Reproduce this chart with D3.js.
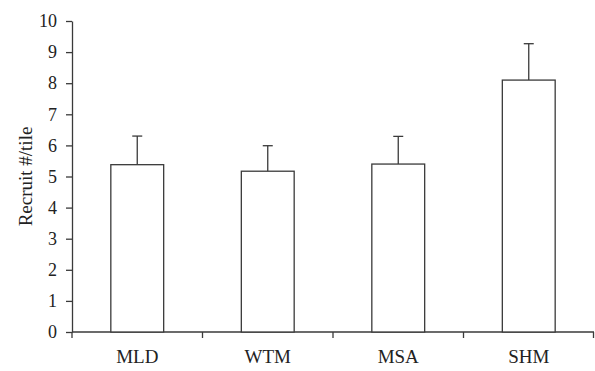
<!DOCTYPE html>
<html>
<head>
<meta charset="utf-8">
<script src="https://cdn.jsdelivr.net/npm/d3@7"></script>
<style>
  body { margin: 0; background: #fff; }
  text { font-family: "Liberation Serif", "DejaVu Serif", serif; fill: #222; }
</style>
</head>
<body>
<div id="chart-container"></div>
<script>
// Data
const categories = ["MLD", "WTM", "MSA", "SHM"];
const means = [5.38, 5.17, 5.40, 8.10];
const errors = [0.92, 0.82, 0.89, 1.17];
const yTicks = [0, 1, 2, 3, 4, 5, 6, 7, 8, 9, 10];

const W = 595, H = 371;
const margin = { top: 21, right: 1, bottom: 39, left: 72 };
const width = W - margin.left - margin.right;
const height = H - margin.top - margin.bottom;
const ink = "#3a3a3a";

const svg = d3.select("#chart-container")
  .append("svg")
  .attr("width", W)
  .attr("height", H)
  .append("g")
  .attr("transform", `translate(${margin.left}, ${margin.top})`);

const x = d3.scaleBand()
  .domain(categories)
  .range([0, width])
  .paddingInner(0.595)
  .paddingOuter(0.2975);

const y = d3.scaleLinear()
  .domain([0, 10])
  .range([height, 0]);

// y axis
const yAxis = svg.append("g")
  .call(d3.axisLeft(y).tickValues(yTicks).tickSize(6).tickPadding(9).tickSizeOuter(0));
yAxis.select(".domain").attr("stroke", ink).attr("stroke-width", 1.3);
yAxis.selectAll(".tick line").attr("stroke", ink).attr("stroke-width", 1.3);
yAxis.selectAll(".tick text").style("font-size", "18px").attr("fill", "#222");

// x axis with tick marks at band boundaries
const xAxisG = svg.append("g")
  .attr("transform", `translate(0, ${height})`);
xAxisG.append("line")
  .attr("x1", 0).attr("x2", width)
  .attr("stroke", ink).attr("stroke-width", 1.3);
const step = x.step();
const bounds = d3.range(categories.length + 1).map(i => i * step - (i === categories.length ? 0.5 : 0));
xAxisG.selectAll(".bound")
  .data(bounds)
  .join("line")
  .attr("x1", d => d).attr("x2", d => d)
  .attr("y1", 0).attr("y2", 6)
  .attr("stroke", ink).attr("stroke-width", 1.3);
xAxisG.selectAll(".lab")
  .data(categories)
  .join("text")
  .attr("x", d => x(d) + x.bandwidth() / 2)
  .attr("y", 31)
  .attr("text-anchor", "middle")
  .style("font-size", "19px")
  .text(d => d);

// error bars (drawn under bars)
const data = categories.map((c, i) => ({ c, m: means[i], e: errors[i] }));
svg.selectAll(".err")
  .data(data)
  .join("line")
  .attr("x1", d => x(d.c) + x.bandwidth() / 2)
  .attr("x2", d => x(d.c) + x.bandwidth() / 2)
  .attr("y1", d => y(d.m))
  .attr("y2", d => y(d.m + d.e))
  .attr("stroke", ink).attr("stroke-width", 1.3);
svg.selectAll(".cap")
  .data(data)
  .join("line")
  .attr("x1", d => x(d.c) + x.bandwidth() / 2 - 5)
  .attr("x2", d => x(d.c) + x.bandwidth() / 2 + 5)
  .attr("y1", d => y(d.m + d.e))
  .attr("y2", d => y(d.m + d.e))
  .attr("stroke", ink).attr("stroke-width", 1.3);

// bars
svg.selectAll(".bar")
  .data(data)
  .join("rect")
  .attr("x", d => x(d.c))
  .attr("y", d => y(d.m))
  .attr("width", x.bandwidth())
  .attr("height", d => y(0) - y(d.m))
  .attr("fill", "#fff")
  .attr("stroke", ink)
  .attr("stroke-width", 1.3);

// y label
svg.append("text")
  .attr("transform", `translate(${-40}, ${height / 2}) rotate(-90)`)
  .attr("text-anchor", "middle")
  .style("font-size", "19px")
  .text("Recruit #/tile");
</script>
</body>
</html>
